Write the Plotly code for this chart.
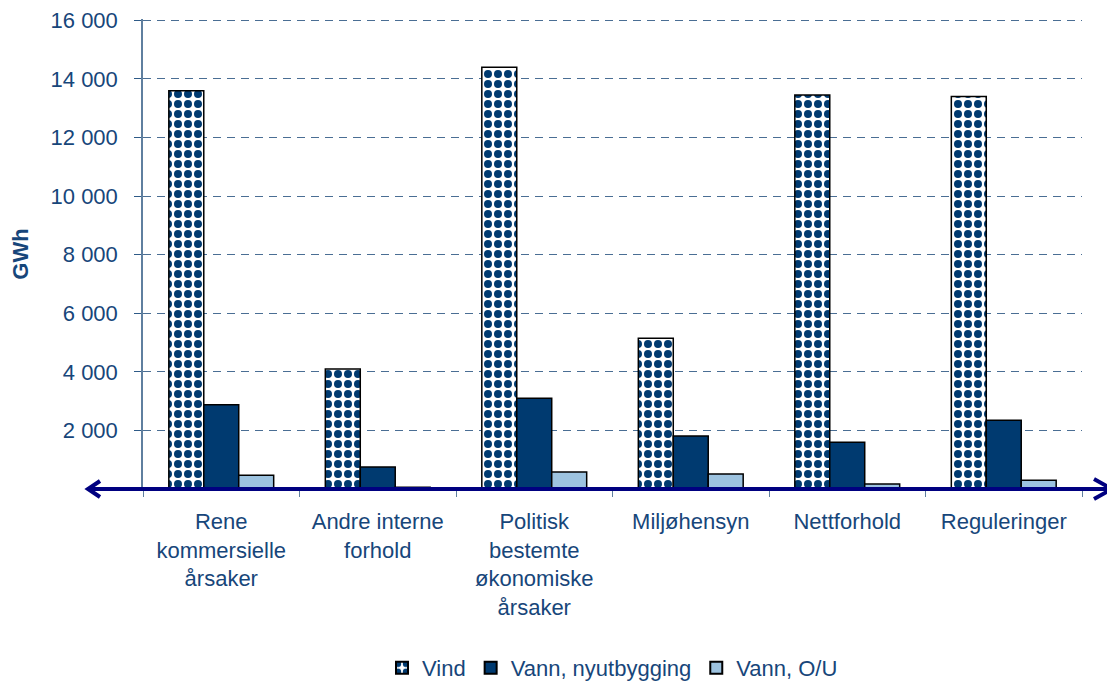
import plotly.graph_objects as go

categories = ["Rene kommersielle årsaker", "Andre interne forhold",
              "Politisk bestemte økonomiske årsaker", "Miljøhensyn",
              "Nettforhold", "Reguleringer"]
category_labels = ["Rene<br>kommersielle<br>årsaker", "Andre interne<br>forhold",
                   "Politisk<br>bestemte<br>økonomiske<br>årsaker", "Miljøhensyn",
                   "Nettforhold", "Reguleringer"]
series_names = ["Vind", "Vann, nyutbygging", "Vann, O/U"]
vind = [13600, 4100, 14400, 5150, 13450, 13400]
vann_ny = [2880, 750, 3100, 1810, 1600, 2350]
vann_ou = [470, 60, 580, 510, 170, 300]
y_ticks = [2000, 4000, 6000, 8000, 10000, 12000, 14000, 16000]
y_max = 16000

TEXT = "#17467A"
NAVY = "#003A70"
LIGHT = "#9DC3E0"
FONT = "Liberation Sans, Arial, sans-serif"

# page body has an 8px margin: compensate so the figure fills the window
OFF = 8
W, H = 1115 - OFF, 681 - OFF
ML, MR, MT, MB = 143 - OFF, 33, 19 - OFF, 192
PW, PH = W - ML - MR, H - MT - MB
PLOT_LEFT, PLOT_BOTTOM = 143, 489  # window pixels

fig = go.Figure()
fig.add_trace(go.Bar(
    x=categories, y=vind, name=series_names[0],
    marker=dict(color="white", line=dict(color="black", width=1.5),
                pattern=dict(shape=".", fgcolor=NAVY, bgcolor="white",
                             size=10, solidity=0.5, fillmode="replace",
                             fgopacity=1))))
fig.add_trace(go.Bar(
    x=categories, y=vann_ny, name=series_names[1],
    marker=dict(color=NAVY, line=dict(color="black", width=1.5))))
fig.add_trace(go.Bar(
    x=categories, y=vann_ou, name=series_names[2],
    marker=dict(color=LIGHT, line=dict(color="black", width=1.5))))


def px_x(p):
    return (p - PLOT_LEFT) / PW


def px_y(p):
    return (PLOT_BOTTOM - p) / PH


arrow = dict(color="#000080", width=4)
shapes = [
    dict(type="line", xref="paper", yref="paper",
         x0=px_x(88), x1=px_x(1112), y0=0, y1=0, line=arrow, layer="above"),
    dict(type="path", xref="paper", yref="paper", layer="above", line=arrow,
         path=f"M {px_x(100)} {px_y(481)} L {px_x(88)} {px_y(489)} L {px_x(100)} {px_y(497)}"),
    dict(type="path", xref="paper", yref="paper", layer="above", line=arrow,
         path=f"M {px_x(1094)} {px_y(479)} L {px_x(1112)} {px_y(489)} L {px_x(1094)} {px_y(499)}"),
]

fig.update_layout(
    width=W, height=H,
    margin=dict(l=ML, r=MR, t=MT, b=MB, autoexpand=False),
    paper_bgcolor="white", plot_bgcolor="white",
    font=dict(family=FONT, size=22, color=TEXT),
    separators=", ",
    barmode="group", bargap=0.33, bargroupgap=0,
    showlegend=True,
    legend=dict(orientation="h", x=0.5, xanchor="center", y=px_y(668),
                yanchor="middle", font=dict(size=22, color=TEXT),
                itemsizing="constant", traceorder="normal"),
    shapes=shapes,
)
fig.update_xaxes(
    tickmode="array", tickvals=categories, ticktext=category_labels,
    showline=False, ticks="outside", tickson="boundaries", ticklen=7,
    tickcolor="#5F7F9F", tickwidth=1, showgrid=False, zeroline=False,
    ticklabelstandoff=17, automargin=False)
fig.update_yaxes(
    range=[0, y_max * 1.003], tickmode="array", tickvals=y_ticks, tickformat=",d",
    showline=True, linecolor="#5F7F9F", linewidth=1.5,
    ticks="outside", ticklen=7, tickcolor="#2E5A87", tickwidth=1,
    showgrid=True, gridcolor="#4A6E94", gridwidth=1, griddash="8px,6px",
    zeroline=False, ticklabelstandoff=12, automargin=False,
    ticklabeloverflow="allow",
    title=dict(text="<b>GWh</b>", font=dict(size=22, color=TEXT), standoff=20))

fig.write_html("out.html")
